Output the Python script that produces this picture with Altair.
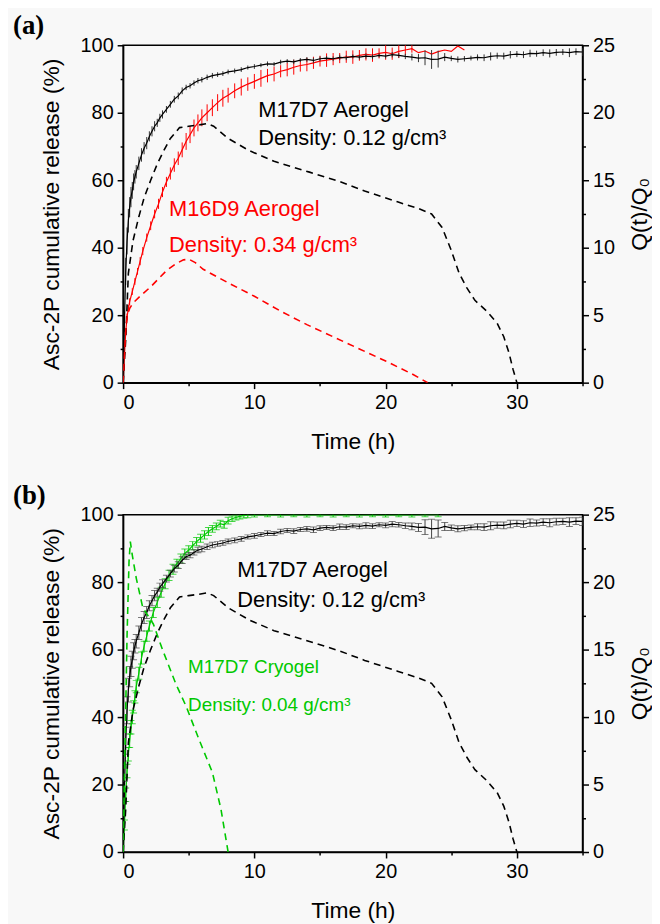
import altair as alt
import pandas as pd

# ---------------- data ----------------
# M17D7 Aerogel cumulative release (%)
aero_t = [0, 0.1, 0.2, 0.3, 0.4, 0.5, 0.6, 0.7, 0.8, 0.9, 1.0,
          1.2, 1.4, 1.6, 1.8, 2.0, 2.2, 2.4, 2.6, 2.8, 3.0,
          3.3, 3.6, 3.9, 4.2, 4.5, 4.8, 5.1, 5.4, 5.7, 6.0,
          6.4, 6.8, 7.2, 7.6, 8.0,
          8.5, 9.0, 9.5, 10, 10.5, 11, 11.5, 12, 12.5, 13, 13.5, 14, 14.5, 15, 15.5, 16, 16.5, 17, 17.5, 18,
          18.5, 19, 19.5, 20, 20.5, 21, 21.5, 22, 22.5, 23, 23.5, 24, 24.5, 25, 25.5, 26, 26.5, 27, 27.5, 28,
          28.5, 29, 29.5, 30, 30.5, 31, 31.5, 32, 32.5, 33, 33.5, 34, 34.5, 35]
aero_rel = [0, 18, 33, 42, 48, 52, 55, 57, 59.5, 61, 62.5,
            65, 67.5, 69.5, 71, 73, 74.5, 76, 77, 78.5, 79.5,
            81, 82.5, 84, 85, 86.5, 87.5, 88, 88.8, 89.5, 89.8,
            90.5, 91, 91.3, 91.6, 92.1,
            92.4, 92.8, 93.4, 93.7, 94.1, 94.5, 94.4, 95.0, 95.3, 95.1, 95.6, 95.8, 95.5, 96.0, 96.2, 96.0, 96.4, 96.3, 96.7, 96.5,
            96.8, 96.6, 97.0, 96.8, 97.2, 97.0, 96.7, 96.5, 96.2, 96.3, 95.8, 95.9, 96.5, 96.1, 95.8, 96.0, 96.2, 96.4, 96.3, 96.7,
            96.9, 96.8, 97.2, 97.4, 97.2, 97.6, 97.5, 97.8, 97.6, 97.9, 98.0, 97.8, 98.1, 98.0]
aero_err = [0, 3, 4, 4, 3.5, 3, 3, 2.5, 2.5, 2, 2,
            2, 2, 1.8, 1.8, 1.5, 1.5, 1.5, 1.2, 1.2, 1.2,
            1, 1, 1, 1, 1, 0.8, 0.8, 0.8, 0.8, 0.8,
            0.8, 0.8, 0.7, 0.7, 0.7,
            0.7, 0.7, 0.6, 0.7, 0.6, 0.7, 0.6, 0.7, 0.6, 0.7, 0.6, 0.7, 0.8, 0.7, 0.6, 0.7, 0.8, 0.7, 0.6, 0.7,
            0.8, 0.7, 0.6, 0.7, 0.8, 0.7, 0.8, 1.0, 1.2, 2.2, 2.8, 2.5, 1.2, 0.8, 0.9, 0.8, 0.7, 0.9, 1.0, 1.2,
            0.9, 1.0, 1.1, 0.9, 1.0, 1.1, 0.9, 1.0, 1.2, 1.0, 0.9, 1.3, 1.0, 1.2]

# M16D9 Aerogel cumulative release (%)
m16_t = [0, 0.1, 0.2, 0.3, 0.4, 0.5,
         0.7, 0.9, 1.1, 1.3, 1.5,
         1.8, 2.1, 2.4, 2.7, 3.0, 3.3, 3.6, 3.9, 4.2, 4.5, 4.8, 5.1, 5.4, 5.7, 6.0,
         6.4, 6.8, 7.2, 7.6, 8.0,
         8.5, 9.0, 9.5, 10, 10.5, 11, 11.5, 12, 12.5, 13, 13.5, 14, 14.5, 15, 15.5, 16, 16.5, 17,
         17.5, 18, 18.5, 19, 19.5, 20, 20.5, 21, 21.5, 22, 22.5, 23, 23.5, 24, 24.5, 25, 25.5, 26]
m16_rel = [0, 8, 15, 19.5, 22, 24,
           27, 30, 33, 36, 39,
           43, 46.5, 50, 53, 56.5, 59.5, 62, 64.5, 66.5, 69, 71.5, 73.5, 75.5, 77, 78.5,
           80, 81.5, 83, 84.3, 85.2,
           86.5, 87.6, 88.5, 89.3, 90.2, 91.0, 91.5, 92.3, 92.8, 93.5, 94.0, 94.3, 94.8, 95.3, 95.6, 95.9, 96.2, 96.6,
           96.5, 97.0, 97.3, 97.1, 97.6, 97.9, 97.5, 98.2, 98.6, 99.0, 97.8, 98.3, 97.4, 98.1, 98.6, 98.2, 99.8, 98.6]
m16_err = [0, 0.5, 0.8, 1, 1, 1,
           1, 1, 1, 1.2, 1.2,
           1.2, 1.3, 1.3, 1.5, 1.5, 1.5, 1.8, 2, 2, 2.2, 2.5, 2.5, 2.5, 2.5, 2.5,
           2.5, 2.5, 2.5, 2.5, 2.2,
           2.2, 2.5, 2, 2.2, 2.5, 2, 2.2, 1.8, 2, 2.2, 1.8, 2, 1.8, 1.6, 2, 1.8, 1.5, 1.8,
           2, 1.6, 1.8, 2, 1.5, 2.2, 1.8, 2, 1.5, 1.2, 0, 0, 0, 0, 0, 0, 0, 0]

# M17D7 Cryogel cumulative release (%)
cryo_t = [0, 0.1, 0.2, 0.3, 0.4, 0.5, 0.6, 0.7, 0.8, 0.9, 1.0,
          1.2, 1.4, 1.6, 1.8, 2.0,
          2.3, 2.6, 2.9, 3.2, 3.5, 3.8, 4.1, 4.4, 4.7, 5.0, 5.3, 5.6, 5.9, 6.2, 6.5, 6.8, 7.1, 7.4, 7.7, 8.0,
          8.3, 8.6, 8.9, 9.2, 9.5,
          10, 11, 12, 13, 14, 15, 16, 17, 18, 19, 20, 21, 22, 23, 24]
cryo_rel = [0, 8, 17, 24, 29, 33, 37, 40, 43, 46, 49,
            53, 57.5, 61, 64, 67,
            71, 74, 77, 79.5, 82, 83.8, 85.5, 87, 88.5, 89.5, 90.8, 92, 93, 94, 95, 95.8, 96.5, 97.3, 97.0, 98.2,
            98.8, 99.2, 99.5, 99.8, 99.9,
            99.9, 100, 99.9, 100, 99.9, 100, 99.9, 100, 99.9, 100, 99.9, 100, 99.9, 100, 100]
cryo_err = [0, 1.5, 2, 2, 2, 2, 2, 2, 1.8, 1.8, 1.8,
            1.8, 1.8, 1.5, 1.5, 1.5,
            1.5, 1.5, 1.5, 1.5, 1.5, 1.5, 1.3, 1.3, 1.3, 1.3, 1.2, 1.2, 1.2, 1.2, 1.2, 1.0, 1.0, 1.0, 1.0, 1.0,
            0.8, 0.8, 0.8, 0.8, 0.8,
            0.6, 0.6, 0.6, 0.6, 0.6, 0.6, 0.6, 0.6, 0.6, 0.6, 0.6, 0.6, 0.6, 0.6, 0.6]

# Q(t)/Q0 (right axis)
aero_q_t = [0, 0.2, 0.4, 0.75, 1.2, 1.6, 2.1, 2.6, 3.1, 3.6, 4.3, 5.0, 5.8, 6.4, 6.9, 8.0, 9.6, 11.5,
            14.2, 16.5, 18.4, 20.9, 22.5, 23.5, 24.3, 25.0, 25.6, 26.2, 26.8, 27.7, 28.5, 29.0, 29.4, 29.7, 30.0]
aero_q = [0, 3.2, 8.1, 10.5, 12.3, 13.7, 15.0, 16.2, 17.2, 18.1, 18.9, 19.0, 19.1, 19.2, 19.0, 18.1, 17.2, 16.4,
          15.6, 14.9, 14.2, 13.4, 12.9, 12.5, 11.5, 9.8, 8.1, 7.0, 6.1, 5.3, 4.4, 3.4, 2.2, 1.0, 0]

m16_q_t = [0, 0.1, 0.2, 0.3, 0.5, 0.75, 1.4, 2.1, 2.7, 3.3, 4.0, 4.6, 5.0, 5.5, 6.1, 8, 10, 12, 14, 16, 18, 20, 22, 23.2]
m16_q = [0, 2, 3.8, 4.9, 5.5, 5.9, 6.5, 7.1, 7.7, 8.3, 8.8, 9.1, 9.15, 8.9, 8.4, 7.4, 6.4, 5.3, 4.3, 3.4, 2.5, 1.6, 0.65, 0]

cryo_q_t = [0, 0.15, 0.3, 0.45, 0.55, 0.7, 1.0, 1.5, 2.3, 3.0, 4.0, 4.8, 5.8, 6.8, 7.45, 8.0]
cryo_q = [0, 8, 16, 21.5, 23, 22, 20.3, 18.1, 16.9, 15, 12.5, 10.8, 8.3, 5.9, 3.2, 0]

# annotations (time, release %)
ann_a_black_t = [10.3, 10.3]
ann_a_black_y = [78.8, 70.5]
ann_a_black_txt = ["M17D7 Aerogel", "Density: 0.12 g/cm³"]
ann_a_red_t = [3.5, 3.5]
ann_a_red_y = [49.3, 38.6]
ann_a_red_txt = ["M16D9 Aerogel", "Density: 0.34 g/cm³"]
ann_b_black_t = [8.7, 8.7]
ann_b_black_y = [81.5, 72.7]
ann_b_black_txt = ["M17D7 Aerogel", "Density: 0.12 g/cm³"]
ann_b_green_t = [4.95, 4.95]
ann_b_green_y = [53.2, 41.7]
ann_b_green_txt = ["M17D7 Cryogel", "Density: 0.04 g/cm³"]

# ---------------- chart ----------------
FONT = "Liberation Sans"
RED = "#ff0000"
GREEN = "#00c800"

X_SCALE = alt.Scale(domain=[0, 35], nice=False, zero=False)
Y_SCALE = alt.Scale(domain=[0, 100], nice=False)
Q_SCALE = alt.Scale(domain=[0, 25], nice=False)

x_axis = alt.Axis(values=[0, 5, 10, 15, 20, 25, 30, 35],
                  labelExpr="datum.value % 10 === 0 ? datum.label : ''",
                  tickSize={"condition": {"test": "datum.value % 10 !== 0", "value": 3}, "value": 6},
                  labelPadding=4, titlePadding=18, grid=False)
left_axis = alt.Axis(orient="left", values=[0, 10, 20, 30, 40, 50, 60, 70, 80, 90, 100],
                     labelExpr="datum.value % 20 === 0 ? datum.label : ''",
                     tickSize={"condition": {"test": "datum.value % 20 !== 0", "value": 3}, "value": 6},
                     labelPadding=4, titlePadding=17, grid=False)
right_axis = alt.Axis(orient="right", values=[0, 2.5, 5, 7.5, 10, 12.5, 15, 17.5, 20, 22.5, 25],
                      labelExpr="datum.value % 5 === 0 ? datum.label : ''",
                      tickSize={"condition": {"test": "datum.value % 5 !== 0", "value": 3}, "value": 6},
                      labelPadding=4, titlePadding=14, titleAngle=270, titleBaseline="top", grid=False)


def X():
    return alt.X("t:Q", scale=X_SCALE, axis=x_axis, title="Time (h)")


def YL(field):
    return alt.Y(f"{field}:Q", scale=Y_SCALE, axis=left_axis, title="Asc-2P cumulative release (%)")


def YR(field):
    return alt.Y(f"{field}:Q", scale=Q_SCALE, axis=right_axis, title="Q(t)/Q₀")


def release_layers(t, rel, err, line_color, bar_color, caps):
    df = pd.DataFrame({"t": t, "y": rel, "err": err})
    df["lo"] = df["y"] - df["err"]
    df["hi"] = df["y"] + df["err"]
    base = alt.Chart(df)
    eb = base.transform_filter("datum.err > 0")
    layers = [eb.mark_rule(color=bar_color, strokeWidth=1, clip=True).encode(
        x=X(), y=YL("lo"), y2=alt.Y2("hi:Q"))]
    if caps:
        for f in ("lo", "hi"):
            layers.append(eb.mark_tick(color=bar_color, orient="horizontal", size=7,
                                       thickness=1, clip=True).encode(x=X(), y=YL(f)))
    layers.append(base.mark_line(color=line_color, strokeWidth=1.2, clip=True).encode(x=X(), y=YL("y")))
    return layers


def q_layer(t, q, color):
    df = pd.DataFrame({"t": t, "q": q})
    return alt.Chart(df).mark_line(color=color, strokeDash=[7, 5], strokeWidth=1.6, clip=True).encode(
        x=X(), y=YR("q"))


def text_layer(t, y, txt, color, size):
    df = pd.DataFrame({"t": t, "y": y, "label": txt})
    return alt.Chart(df).mark_text(align="left", baseline="alphabetic", color=color,
                                   fontSize=size, font=FONT).encode(
        x=X(), y=YL("y"), text="label:N")


def panel(label, left_layers, right_layers):
    left = alt.layer(*left_layers)
    right = alt.layer(*right_layers)
    return alt.layer(left, right).resolve_scale(y="independent").properties(
        width=463, height=340,
        title=alt.TitleParams(text=label, anchor="start", frame="group", dx=-111, offset=-26,
                              fontSize=27, font="Liberation Serif", fontWeight="bold",
                              baseline="alphabetic", color="black"))


panel_a = panel(
    "(a)",
    release_layers(m16_t, m16_rel, m16_err, RED, RED, False)
    + release_layers(aero_t, aero_rel, aero_err, "black", "#333333", False)
    + [text_layer(ann_a_black_t, ann_a_black_y, ann_a_black_txt, "black", 22),
       text_layer(ann_a_red_t, ann_a_red_y, ann_a_red_txt, RED, 22)],
    [q_layer(aero_q_t, aero_q, "black"), q_layer(m16_q_t, m16_q, RED)],
)

panel_b = panel(
    "(b)",
    release_layers(cryo_t, cryo_rel, cryo_err, GREEN, GREEN, True)
    + release_layers(aero_t, aero_rel, aero_err, "black", "#444444", True)
    + [text_layer(ann_b_black_t, ann_b_black_y, ann_b_black_txt, "black", 22),
       text_layer(ann_b_green_t, ann_b_green_y, ann_b_green_txt, GREEN, 19)],
    [q_layer(aero_q_t, aero_q, "black"), q_layer(cryo_q_t, cryo_q, GREEN)],
)

chart = alt.vconcat(panel_a, panel_b, spacing=27).configure(
    background="#f8f8f8",
    padding={"left": 4, "top": 0, "right": 0, "bottom": 0},
).configure_view(
    stroke="black", strokeWidth=1.5
).configure_axis(
    domainColor="black", domainWidth=1.5, tickColor="black", tickWidth=1.5,
    labelFont=FONT, labelFontSize=20, labelColor="black",
    titleFont=FONT, titleFontSize=23, titleFontWeight="normal", titleColor="black",
)

chart.save("out.html", embed_options={"renderer": "svg", "actions": False})
